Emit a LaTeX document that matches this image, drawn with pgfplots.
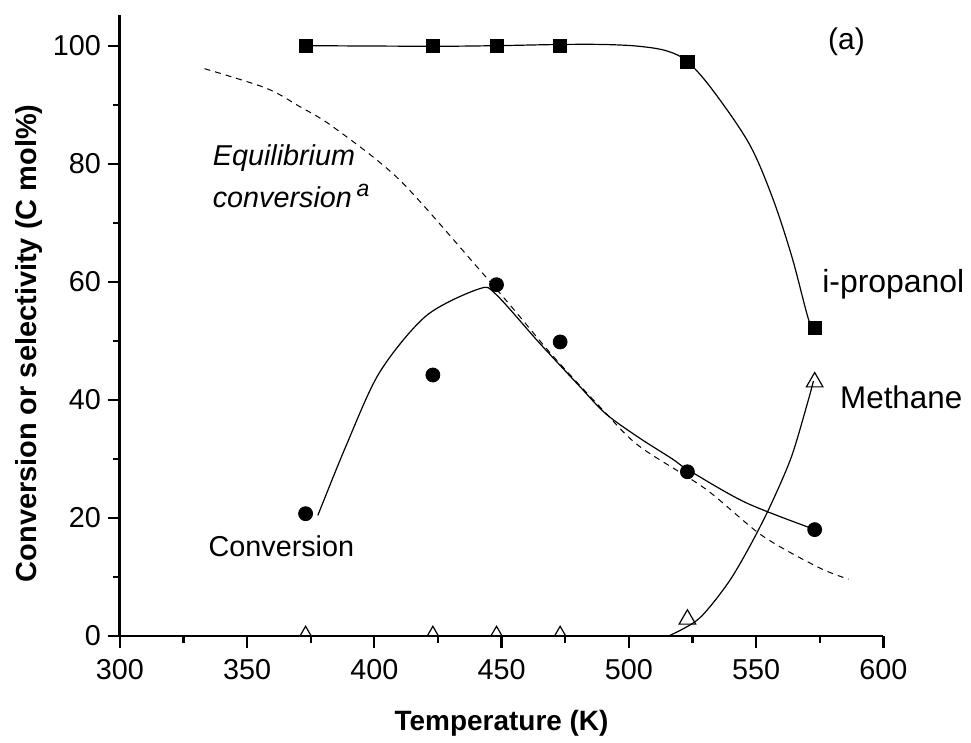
\documentclass[border=0pt]{standalone}
\usepackage{fontspec}
\setmainfont{Liberation Sans}
\usepackage{pgfplots}
\pgfplotsset{compat=1.18}

\begin{document}
\begin{tikzpicture}
\begin{axis}[
  scale only axis,
  width=382.5pt, height=311pt,
  xmin=300, xmax=600, ymin=0, ymax=105.2,
  axis x line*=bottom, axis y line*=left,
  axis line style={line width=1.3pt},
  every tick/.style={line width=1.1pt, black},
  tick align=outside,
  major tick length=6pt, minor tick length=3.5pt,
  xtick={300,350,...,600}, ytick={0,20,...,100},
  minor x tick num=1, minor y tick num=1,
  /pgf/number format/assume math mode=true,
  ticklabel style={font=\fontsize{14.4}{16}\selectfont},
  xticklabel style={yshift=-2.5pt},
  xlabel={\textbf{Temperature (K)}},
  ylabel={\textbf{Conversion or selectivity (C mol\%)}},
  xlabel style={font=\fontsize{14}{16}\selectfont, yshift=-8pt},
  ylabel style={font=\fontsize{14.5}{16}\selectfont, yshift=-1.5pt, xshift=-9pt},
  clip mode=individual,
  clip marker paths=true,
]
% i-propanol selectivity
\addplot[black, only marks, mark=square*, mark size=3.3pt]
  coordinates {(373,100) (423,100) (448,100) (473,100) (523,97.3) (573,52.2)};
\addplot[black, line width=0.6pt, smooth, tension=0.55]
  coordinates {(373,100) (423,99.9) (448,100) (473,100.2) (490,100.2) (503.9,99.9)
  (515,99.1) (523,97.3) (532.7,92.6) (547.1,83.5) (556.2,74.5) (564,64.3) (570.6,53.6) (573,52.2)};
% conversion
\addplot[black, only marks, mark=*, mark size=3.5pt]
  coordinates {(373,20.7) (423,44.2) (448,59.5) (473,49.8) (523,27.8) (573,18)};
\addplot[black, line width=0.6pt, smooth, tension=0.5]
  coordinates {(377.8,20.4) (388.9,32.2) (402,44.6) (420.3,54.2) (441.2,58.8)
  (447.7,57.9) (464.7,49.7) (480.4,42.4) (491,37.6) (503.9,33.6) (517,30) (523,28.2)
  (545.8,22.6) (572.5,18.1)};
% methane selectivity
\addplot[black, only marks, mark=triangle, mark size=4.8pt, line width=0.6pt]
  coordinates {(373,0) (423,0) (448,0) (473,0) (523,2.8) (573,43)};
\addplot[black, line width=0.6pt, smooth, tension=0.5]
  coordinates {(515.7,0) (527.5,2.9) (539.2,9.1) (548.4,15.9) (556.2,22.6)
  (564,30.5) (570.6,40.1) (572.5,43.2)};
% equilibrium conversion
\addplot[black, line width=0.5pt, dash pattern=on 3pt off 2.5pt, smooth, tension=0.5]
  coordinates {(333.3,96.1) (357.5,92.8) (370.6,89.7) (383.6,86.3) (409.8,77.3)
  (441.2,62.1) (455,55.2) (470,47.5) (489.5,38.4) (503.9,32.2) (530.1,24.9)
  (552.3,17) (574.5,11.6) (586.3,9.6)};

\node[font=\fontsize{15}{17}\selectfont] at (axis cs:585.5,100.6) {(a)};
\node[font=\fontsize{16}{18}\selectfont] at (axis cs:603.9,59.6) {i-propanol};
\node[font=\fontsize{15.7}{18}\selectfont] at (axis cs:607,40.4) {Methane};
\node[font=\fontsize{14.4}{16}\selectfont] at (axis cs:363.5,15.2) {Conversion};
\node[font=\fontsize{14.4}{16}\selectfont\itshape, anchor=west] at (axis cs:333.8,81) {Equilibrium};
\node[font=\fontsize{14.4}{16}\selectfont\itshape, anchor=west] at (axis cs:333.8,74.5)
  {conversion\,\raisebox{0.7ex}{\fontsize{11.5}{13}\selectfont a}};
\end{axis}
\path (-60pt,-50.5pt) rectangle (425.5pt,318.5pt);
\end{tikzpicture}
\end{document}
